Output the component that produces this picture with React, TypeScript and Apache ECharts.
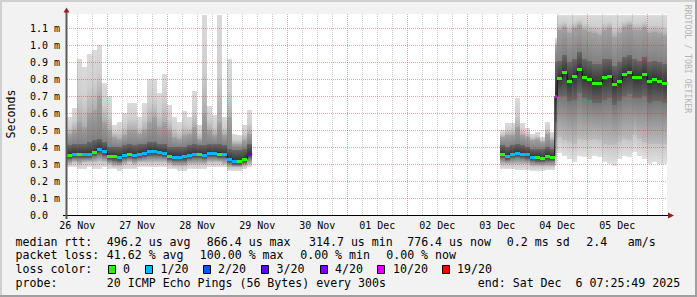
import React, { useEffect, useRef } from 'react';
import * as echarts from 'echarts';

const FONT = '"DejaVu Sans Mono", monospace';

// ---- time bins (hours since 26 Nov 00:00) ----
const binStart = [
  8, 10, 12, 14, 16, 18, 20, 22, 24, 26, 28, 30, 32, 34, 36, 38, 40, 42, 44, 46, 48, 50, 52, 54, 56, 58, 60, 62, 64, 66, 68, 70, 72, 74, 76, 78, 80,
  181, 183, 185, 187, 189, 191, 193, 195, 197, 199, 201,
  203, 204, 206, 208, 210, 212, 214, 216, 218, 220, 222, 224, 226, 228, 230, 232, 234, 236, 238, 240, 242, 244, 246,
];

// ---- ping distribution per bin (ms) ----
const minMs = [
  0.28, 0.28, 0.27, 0.27, 0.28, 0.27, 0.27, 0.28, 0.27, 0.27, 0.26, 0.27, 0.27, 0.27, 0.28, 0.28, 0.28, 0.28, 0.28, 0.28, 0.27, 0.27, 0.26, 0.26, 0.27, 0.27, 0.27, 0.27, 0.28, 0.28, 0.28, 0.28, 0.26, 0.26, 0.26, 0.27, 0.28,
  0.27, 0.27, 0.27, 0.265, 0.265, 0.265, 0.26, 0.26, 0.26, 0.265, 0.265,
  0.29, 0.365, 0.345, 0.33, 0.31, 0.345, 0.34, 0.33, 0.345, 0.34, 0.31, 0.30, 0.29, 0.33, 0.345, 0.34, 0.37, 0.345, 0.33, 0.30, 0.31, 0.30, 0.30,
];
const lowMs = [
  0.30, 0.31, 0.30, 0.31, 0.31, 0.31, 0.32, 0.31, 0.30, 0.29, 0.29, 0.30, 0.31, 0.30, 0.31, 0.31, 0.31, 0.31, 0.31, 0.31, 0.30, 0.29, 0.29, 0.29, 0.30, 0.30, 0.30, 0.30, 0.31, 0.31, 0.31, 0.30, 0.28, 0.28, 0.28, 0.29, 0.30,
  0.30, 0.30, 0.30, 0.30, 0.30, 0.30, 0.29, 0.29, 0.29, 0.29, 0.29,
  0.36, 0.46, 0.44, 0.43, 0.42, 0.45, 0.44, 0.44, 0.45, 0.44, 0.42, 0.41, 0.41, 0.43, 0.45, 0.44, 0.47, 0.45, 0.43, 0.42, 0.42, 0.42, 0.42,
];
const lowCoreMs = [
  0.33, 0.335, 0.335, 0.335, 0.335, 0.345, 0.36, 0.35, 0.325, 0.32, 0.315, 0.33, 0.335, 0.33, 0.335, 0.34, 0.35, 0.35, 0.345, 0.34, 0.325, 0.32, 0.32, 0.32, 0.33, 0.335, 0.335, 0.33, 0.34, 0.34, 0.335, 0.335, 0.305, 0.295, 0.295, 0.305, 0.335,
  0.335, 0.325, 0.335, 0.34, 0.335, 0.33, 0.32, 0.315, 0.31, 0.32, 0.32,
  0.55, 0.70, 0.70, 0.67, 0.68, 0.72, 0.69, 0.68, 0.66, 0.66, 0.68, 0.69, 0.65, 0.67, 0.70, 0.71, 0.69, 0.69, 0.70, 0.66, 0.67, 0.67, 0.66,
];
const medianMs = [
  0.355, 0.36, 0.36, 0.36, 0.36, 0.37, 0.39, 0.375, 0.35, 0.345, 0.34, 0.355, 0.36, 0.355, 0.36, 0.365, 0.375, 0.375, 0.37, 0.366, 0.35, 0.343, 0.343, 0.347, 0.355, 0.36, 0.36, 0.355, 0.366, 0.366, 0.362, 0.36, 0.33, 0.32, 0.32, 0.33, 0.36,
  0.359, 0.35, 0.36, 0.366, 0.36, 0.357, 0.343, 0.34, 0.335, 0.347, 0.343,
  0.70, 0.805, 0.84, 0.79, 0.82, 0.86, 0.81, 0.80, 0.78, 0.776, 0.81, 0.82, 0.77, 0.79, 0.83, 0.84, 0.81, 0.81, 0.83, 0.79, 0.80, 0.79, 0.78,
];
const highCoreMs = [
  0.41, 0.42, 0.42, 0.42, 0.43, 0.44, 0.45, 0.43, 0.40, 0.40, 0.40, 0.41, 0.42, 0.41, 0.42, 0.42, 0.43, 0.43, 0.42, 0.42, 0.40, 0.40, 0.40, 0.40, 0.41, 0.42, 0.41, 0.41, 0.42, 0.42, 0.42, 0.41, 0.39, 0.38, 0.38, 0.39, 0.42,
  0.41, 0.40, 0.41, 0.42, 0.41, 0.40, 0.39, 0.39, 0.39, 0.40, 0.39,
  0.90, 0.91, 0.94, 0.90, 0.92, 0.96, 0.92, 0.91, 0.89, 0.89, 0.92, 0.92, 0.88, 0.90, 0.93, 0.94, 0.92, 0.91, 0.93, 0.90, 0.91, 0.90, 0.89,
];
const highMs = [
  0.48, 0.50, 0.55, 0.52, 0.60, 0.62, 0.70, 0.55, 0.50, 0.46, 0.45, 0.47, 0.50, 0.50, 0.48, 0.50, 0.55, 0.58, 0.52, 0.55, 0.50, 0.46, 0.45, 0.47, 0.48, 0.52, 0.45, 0.60, 0.50, 0.47, 0.55, 0.47, 0.58, 0.42, 0.42, 0.44, 0.48,
  0.46, 0.47, 0.47, 0.52, 0.47, 0.46, 0.44, 0.45, 0.43, 0.48, 0.44,
  1.00, 1.09, 1.11, 1.07, 1.10, 1.12, 1.09, 1.08, 1.07, 1.06, 1.09, 1.10, 1.05, 1.07, 1.11, 1.12, 1.09, 1.09, 1.11, 1.07, 1.08, 1.07, 1.06,
];
const maxMs = [
  0.58, 0.63, 0.92, 0.87, 0.95, 0.97, 1.0, 0.78, 0.70, 0.53, 0.55, 0.60, 0.66, 0.66, 0.58, 0.66, 0.80, 0.80, 0.72, 0.83, 0.65, 0.58, 0.55, 0.61, 0.58, 0.73, 0.53, 1.18, 0.64, 0.59, 1.18, 0.58, 0.92, 0.48, 0.47, 0.53, 0.62,
  0.50, 0.54, 0.54, 0.69, 0.54, 0.51, 0.48, 0.49, 0.46, 0.55, 0.49,
  1.04, 1.18, 1.18, 1.18, 1.18, 1.18, 1.18, 1.18, 1.18, 1.18, 1.18, 1.18, 1.18, 1.18, 1.18, 1.18, 1.18, 1.18, 1.18, 1.18, 1.18, 1.18, 1.18,
];
// index into lossLevels
const lossIdx = [
  0, 1, 0, 1, 1, 0, 1, 1, 0, 0, 1, 1, 0, 1, 1, 1, 1, 1, 1, 1, 0, 1, 1, 1, 1, 1, 0, 1, 1, 1, 0, 1, 1, 1, 0, 0, 3,
  0, 1, 1, 1, 1, 1, 1, 0, 0, 0, 0,
  5, 0, 0, 0, 0, 0, 0, 0, 0, 0, 0, 0, 0, 0, 0, 0, 0, 0, 0, 0, 0, 0, 0,
];

const lossLevels = ['0', '1/20', '2/20', '3/20', '4/20', '10/20', '19/20'];
const lossColors = ['#26ff00', '#00b8ff', '#0059ff', '#5e00ff', '#7e00ff', '#dd00ff', '#ff0000'];

// ---- axes ----
const xMin = 7.88;
const xMax = 247.88;
const dayLabels = ['26 Nov', '27 Nov', '28 Nov', '29 Nov', '30 Nov', '01 Dec', '02 Dec', '03 Dec', '04 Dec', '05 Dec'];
const dayLabelHours = [12, 36, 60, 84, 108, 132, 156, 180, 204, 228];
const majorGridHours = [24, 48, 72, 96, 120, 144, 168, 192, 216, 240];
const minorGridHours = [12, 18, 30, 36, 42, 54, 60, 66, 78, 84, 90, 102, 108, 114, 126, 132, 138, 150, 156, 162, 174, 180, 186, 198, 204, 210, 222, 228, 234, 246];
const yMax = 1.184;
const yTickValues = [0, 0.1, 0.2, 0.3, 0.4, 0.5, 0.6, 0.7, 0.8, 0.9, 1.0, 1.1];
const yTickLabels = ['0.0', '0.1 m', '0.2 m', '0.3 m', '0.4 m', '0.5 m', '0.6 m', '0.7 m', '0.8 m', '0.9 m', '1.0 m', '1.1 m'];

// band colour stops, from top of band (offset 0) to bottom (offset 1)
const bandStops: [number, string][][] = [
  [[0, '#c6c6c6'], [1, '#e0e0e0']],
  [[0, '#767676'], [1, '#bcbcbc']],
  [[0, '#343434'], [1, '#686868']],
  [[0, '#686868'], [1, '#343434']],
  [[0, '#a2a2a2'], [1, '#808080']],
  [[0, '#dadada'], [0.55, '#cfcfcf'], [1, '#adadad']],
];

const MAJOR = 'rgba(205,40,40,0.42)';
const MINOR = 'rgba(120,120,120,0.38)';

function binEnd(i: number): number {
  const s = binStart[i];
  const n = binStart[i + 1];
  if (n !== undefined && n - s <= 2) return n;
  return s + 2;
}

export default function App() {
  const ref = useRef<HTMLDivElement>(null);
  useEffect(() => {
    if (!ref.current) return;
    const chart = echarts.init(ref.current, null, { renderer: 'svg' });

    const smokeData = binStart.map((s, i) => [s, binEnd(i), minMs[i], lowMs[i], lowCoreMs[i], medianMs[i], highCoreMs[i], highMs[i], maxMs[i]]);
    const dashData = binStart.map((s, i) => [s, binEnd(i), medianMs[i], lossIdx[i]]);
    const lineData: any[] = [];
    binStart.forEach((s, i) => {
      const e = binEnd(i);
      lineData.push([s, medianMs[i]]);
      lineData.push([e, medianMs[i]]);
      const n = binStart[i + 1];
      if (n !== undefined && n !== e) lineData.push([e, '-']);
    });
    const vGrid = [...minorGridHours.map((h) => [h, 0]), ...majorGridHours.map((h) => [h, 1])];
    const hGrid = yTickValues.filter((v) => v > 0).map((v) => [v]);

    const text = (t: string, x: number, y: number, size = 11.6, extra: any = {}) => ({
      type: 'text',
      x,
      y,
      silent: true,
      z: 10,
      ...extra,
      style: {
        text: t,
        font: `${size}px ${FONT}`,
        fill: extra.fill || '#000',
        textAlign: extra.align || 'left',
        textVerticalAlign: 'middle',
        align: extra.align || 'left',
        verticalAlign: 'middle',
      },
    });

    const swatchX = [108.5, 145.5, 203.5, 261.5, 320.5, 377.5, 442.5];
    const swatchTextX = [123, 160.5, 218, 276.5, 335, 393, 457];

    const graphic: any[] = [
      { type: 'rect', shape: { x: 0, y: 0, width: 697, height: 2 }, style: { fill: '#d0d0d0' }, silent: true },
      { type: 'rect', shape: { x: 0, y: 0, width: 2, height: 297 }, style: { fill: '#d0d0d0' }, silent: true },
      { type: 'rect', shape: { x: 695, y: 0, width: 2, height: 297 }, style: { fill: '#a0a0a0' }, silent: true },
      { type: 'rect', shape: { x: 0, y: 295, width: 697, height: 2 }, style: { fill: '#a0a0a0' }, silent: true },
      { type: 'line', shape: { x1: 63, y1: 215.5, x2: 669, y2: 215.5 }, style: { stroke: '#000', lineWidth: 1 }, z: 20, silent: true },
      { type: 'line', shape: { x1: 66.5, y1: 219, x2: 66.5, y2: 11 }, style: { stroke: '#5a5a5a', lineWidth: 2 }, z: 20, silent: true },
      { type: 'polygon', shape: { points: [[63.5, 12.5], [66.5, 7.5], [69.5, 12.5]] }, style: { fill: '#9b1c1c' }, z: 21, silent: true },
      { type: 'polygon', shape: { points: [[668, 212.5], [674, 215.5], [668, 218.5]] }, style: { fill: '#9b1c1c' }, z: 21, silent: true },
      text('Seconds', 11, 114, 11.6, { rotation: Math.PI / 2, align: 'center' }),
      text('RRDTOOL / TOBI OETIKER', 688, 59, 8.2, { rotation: -Math.PI / 2, align: 'center', fill: '#b4b4b4' }),
      text('median rtt:', 15.5, 241.5),
      text('496.2 us avg', 106.8, 241.5),
      text('866.4 us max', 206.8, 241.5),
      text('314.7 us min', 309, 241.5),
      text('776.4 us now', 407.2, 241.5),
      text('0.2 ms sd', 506.8, 241.5),
      text('2.4', 586.2, 241.5),
      text('am/s', 627.8, 241.5),
      text('packet loss:', 15.5, 255),
      text('41.62 % avg', 106.8, 255),
      text('100.00 % max', 199.8, 255),
      text('0.00 % min', 300.2, 255),
      text('0.00 % now', 386.2, 255),
      text('loss color:', 15.5, 269.3),
      text('probe:', 15.5, 283),
      text('20 ICMP Echo Pings (56 Bytes) every 300s', 106.8, 283),
      text('end: Sat Dec  6 07:25:49 2025', 477.8, 283),
    ];
    lossLevels.forEach((lv, i) => {
      graphic.push({ type: 'rect', shape: { x: swatchX[i], y: 265.5, width: 7, height: 8 }, style: { fill: lossColors[i], stroke: '#000', lineWidth: 1 }, z: 10, silent: true });
      graphic.push(text(lv, swatchTextX[i], 269.3));
    });

    chart.setOption({
      animation: false,
      backgroundColor: '#f2f2f2',
      grid: { left: 67, right: 30, top: 14, bottom: 82, show: true, backgroundColor: '#ffffff', borderWidth: 0, outerBoundsMode: 'none' },
      xAxis: {
        type: 'value',
        min: xMin,
        max: xMax,
        axisLine: { show: false },
        axisTick: { show: false },
        splitLine: { show: false },
        axisLabel: {
          customValues: dayLabelHours,
          margin: 5,
          fontFamily: FONT,
          fontSize: 10,
          color: '#000',
          formatter: (v: number) => {
            const i = dayLabelHours.indexOf(Math.round(v));
            return i >= 0 ? dayLabels[i] : '';
          },
        },
      },
      yAxis: {
        type: 'value',
        min: 0,
        max: yMax,
        interval: 0.1,
        axisLine: { show: false },
        axisTick: { show: false },
        splitLine: { show: false },
        axisLabel: {
          customValues: yTickValues,
          align: 'left',
          margin: 37,
          fontFamily: FONT,
          fontSize: 10,
          color: '#000',
          showMaxLabel: true,
          showMinLabel: true,
          formatter: (v: number) => {
            const i = Math.round(v * 10);
            return Math.abs(v * 10 - i) < 0.01 && i < yTickLabels.length ? yTickLabels[i] : '';
          },
        },
      },
      series: [
        {
          type: 'custom',
          name: 'smoke',
          z: 2,
          clip: true,
          silent: true,
          encode: { x: [0, 1], y: [2, 3, 4, 5, 6, 7, 8] },
          data: smokeData,
          renderItem: (params: any, api: any) => {
            const s = api.value(0);
            const e = api.value(1);
            const xs = Math.round(api.coord([s, 0])[0]);
            const xe = Math.round(api.coord([e, 0])[0]);
            const ys: number[] = [];
            for (let k = 2; k <= 8; k++) ys.push(Math.round(api.coord([s, api.value(k)])[1]));
            const children: any[] = [];
            for (let b = 0; b < 6; b++) {
              const h = ys[b] - ys[b + 1];
              if (h <= 0) continue;
              children.push({
                type: 'rect',
                shape: { x: xs, y: ys[b + 1], width: xe - xs, height: h },
                style: {
                  fill: new echarts.graphic.LinearGradient(0, 0, 0, 1, bandStops[b].map(([o, c]) => ({ offset: o, color: c }))),
                },
              });
            }
            return { type: 'group', children };
          },
        },
        {
          type: 'custom',
          name: 'vgrid',
          z: 3,
          silent: true,
          encode: { x: 0 },
          data: vGrid,
          renderItem: (params: any, api: any) => {
            const cs = params.coordSys;
            const x = Math.floor(api.coord([api.value(0), 0])[0]) + 0.5;
            return {
              type: 'line',
              shape: { x1: x, y1: cs.y, x2: x, y2: cs.y + cs.height },
              style: { stroke: api.value(1) ? MAJOR : MINOR, lineWidth: 1, lineDash: [1, 1] },
            };
          },
        },
        {
          type: 'custom',
          name: 'hgrid',
          z: 3,
          silent: true,
          encode: { y: 0 },
          data: hGrid,
          renderItem: (params: any, api: any) => {
            const cs = params.coordSys;
            const y = Math.floor(api.coord([xMin, api.value(0)])[1]) + 0.5;
            return {
              type: 'line',
              shape: { x1: cs.x, y1: y, x2: cs.x + cs.width, y2: y },
              style: { stroke: MAJOR, lineWidth: 1, lineDash: [1, 1] },
            };
          },
        },
        {
          type: 'line',
          name: 'median',
          z: 6,
          silent: true,
          symbol: 'none',
          data: lineData,
          lineStyle: { color: '#111', width: 1 },
        },
        {
          type: 'custom',
          name: 'loss',
          z: 7,
          silent: true,
          encode: { x: [0, 1], y: 2 },
          data: dashData,
          renderItem: (params: any, api: any) => {
            const xs = Math.round(api.coord([api.value(0), 0])[0]);
            const xe = Math.round(api.coord([api.value(1), 0])[0]);
            const y = Math.round(api.coord([api.value(0), api.value(2)])[1]);
            return {
              type: 'rect',
              shape: { x: xs, y: y - 1, width: xe - xs, height: 3 },
              style: { fill: lossColors[api.value(3)] },
            };
          },
        },
      ],
      graphic,
    });
    return () => chart.dispose();
  }, []);
  return <div ref={ref} style={{ position: 'fixed', left: 0, top: 0, width: 697, height: 297 }} />;
}
